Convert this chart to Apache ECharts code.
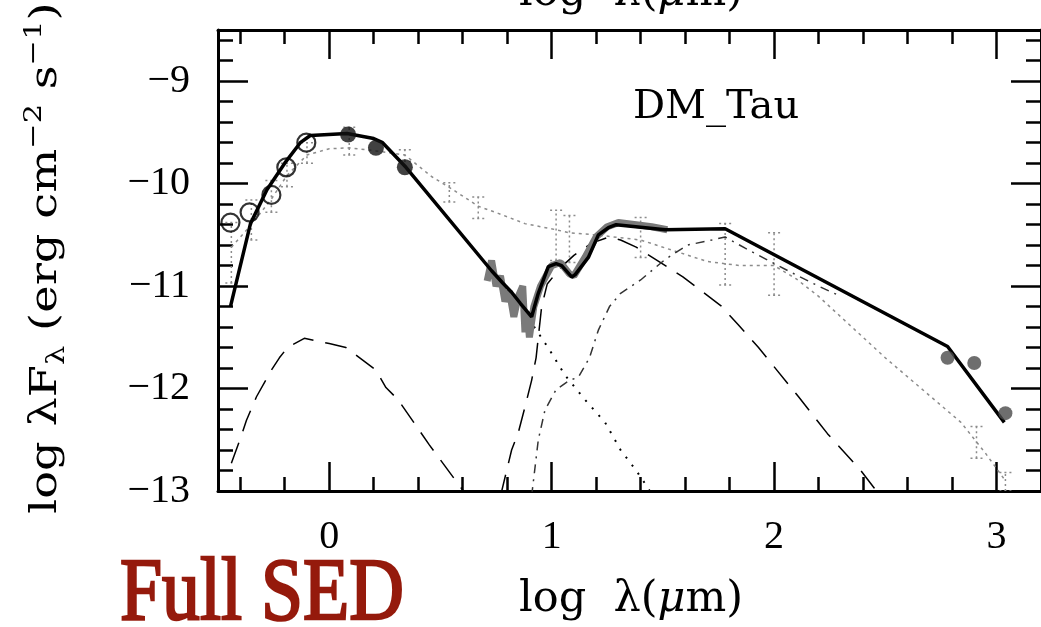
<!DOCTYPE html>
<html>
<head>
<meta charset="utf-8">
<script src="https://cdn.jsdelivr.net/npm/echarts@6/dist/echarts.min.js"></script>
<style>
  html, body { margin: 0; padding: 0; background: #fff; }
  #chart { width: 1041px; height: 627px; }
</style>
</head>
<body>
<div id="chart"></div>
<script>
// Ticks (log lambda / log lambda F_lambda)
const xMajor = [0, 1, 2, 3];
const xMinor = [-0.4, -0.2, 0, 0.2, 0.4, 0.6, 0.8, 1, 1.2, 1.4, 1.6, 1.8, 2, 2.2, 2.4, 2.6, 2.8, 3];
const yMajor = [-13, -12, -11, -10, -9];
const yMinor = [-12.8, -12.6, -12.4, -12.2, -12, -11.8, -11.6, -11.4, -11.2, -11, -10.8, -10.6, -10.4,
                -10.2, -10, -9.8, -9.6, -9.4, -9.2, -9, -8.8, -8.6];

// Total model (solid)
const modelX = [-0.444, -0.354, -0.28, -0.2, -0.13, -0.085, 0.08, 0.2, 0.24, 0.345, 0.73, 0.78, 0.82, 0.86,
                0.91, 0.94, 0.985, 1.02, 1.045, 1.09, 1.105, 1.165, 1.21, 1.255, 1.29, 1.51, 1.78, 2.78, 3.035];
const modelY = [-11.2, -10.39, -10.06, -9.8, -9.6, -9.53, -9.51, -9.56, -9.6, -9.84, -10.85, -10.97, -11.06, -11.17,
                -11.3, -11.07, -10.81, -10.78, -10.8, -10.91, -10.89, -10.72, -10.5, -10.43, -10.4, -10.45, -10.44, -11.59, -12.33];

// Spectrum (grey band)
const specX = [0.71, 0.73, 0.75, 0.77, 0.79, 0.81, 0.83, 0.85, 0.87, 0.88, 0.89, 0.9, 0.92, 0.95, 1.0, 1.04,
               1.08, 1.1, 1.15, 1.2, 1.25, 1.3, 1.38, 1.45, 1.52];
const specY = [-10.95, -10.75, -11.0, -10.9, -11.15, -11.05, -11.3, -11.1, -11.0, -11.45, -11.25, -11.5, -11.2,
               -11.0, -10.8, -10.77, -10.88, -10.9, -10.72, -10.52, -10.42, -10.38, -10.4, -10.42, -10.45];

// Stellar / accretion component (long dash, lower left)
const dashAX = [-0.44, -0.395, -0.372, -0.327, -0.26, -0.224, -0.188, -0.112, 0.0, 0.075, 0.21, 0.255, 0.31, 0.45, 0.6, 0.62];
const dashAY = [-12.73, -12.46, -12.31, -12.08, -11.82, -11.7, -11.6, -11.51, -11.56, -11.6, -11.82, -11.99, -12.11, -12.55, -12.99, -13.06];

// Inner wall (long dash)
const dashBX = [0.77, 0.82, 0.85, 0.88, 0.91, 0.93, 0.955, 0.98, 1.04, 1.1, 1.18, 1.26, 1.31, 1.38, 1.49, 1.59,
                1.76, 1.84, 1.93, 2.11, 2.24, 2.39, 2.45, 2.47];
const dashBY = [-13.05, -12.6, -12.43, -12.18, -11.92, -11.7, -11.2, -10.98, -10.82, -10.7, -10.58, -10.52, -10.55,
                -10.62, -10.77, -10.91, -11.19, -11.38, -11.6, -12.08, -12.44, -12.8, -12.97, -13.05];

// Photosphere (dotted)
const photX = [0.73, 0.91, 0.99, 1.06, 1.15, 1.24, 1.31, 1.38, 1.43, 1.45];
const photY = [-10.85, -11.36, -11.62, -11.87, -12.11, -12.33, -12.6, -12.8, -12.96, -13.03];

// Outer disk (dash-dot)
const outX = [0.91, 0.94, 0.97, 1.02, 1.08, 1.12, 1.17, 1.21, 1.26, 1.31, 1.40, 1.51, 1.61, 1.72, 1.78, 1.87, 2.08, 2.2, 2.3];
const outY = [-13.05, -12.5, -12.21, -12.01, -11.92, -11.89, -11.7, -11.43, -11.2, -11.07, -10.94, -10.74, -10.6,
              -10.55, -10.52, -10.63, -10.87, -11.0, -11.1];

// Taurus median (grey dotted) and its error bars
const medX = [-0.44, -0.35, -0.26, -0.19, -0.1, 0.0, 0.09, 0.21, 0.34, 0.46, 0.55, 0.67, 0.76, 0.88, 1.02, 1.08,
              1.2, 1.4, 1.7, 1.85, 2.0, 2.1, 2.2, 2.5, 2.84, 2.95, 3.04];
const medY = [-10.62, -10.4, -10.15, -9.92, -9.72, -9.66, -9.65, -9.68, -9.72, -9.93, -10.05, -10.22, -10.29, -10.39,
              -10.45, -10.48, -10.5, -10.55, -10.76, -10.8, -10.8, -10.93, -11.1, -11.7, -12.33, -12.63, -12.9];
const errX = [-0.44, -0.35, -0.26, -0.19, -0.1, 0.09, 0.34, 0.54, 0.67, 1.02, 1.08, 1.40, 1.78, 2.0, 2.91, 3.04];
const errLo = [-10.97, -10.55, -10.28, -10.03, -9.8, -9.72, -9.78, -10.18, -10.34, -10.75, -10.77, -10.72, -10.99, -11.09, -12.68, -13.0];
const errHi = [-10.38, -10.16, -9.97, -9.8, -9.6, -9.45, -9.67, -9.99, -10.13, -10.26, -10.31, -10.33, -10.39, -10.48, -12.37, -12.82];

// Photometry
const openX = [-0.444, -0.358, -0.26, -0.193, -0.103];
const openY = [-10.38, -10.28, -10.11, -9.84, -9.6];
const nirX = [0.085, 0.21, 0.34];
const nirY = [-9.52, -9.65, -9.84];
const mmX = [2.78, 2.90, 3.04];
const mmY = [-11.70, -11.75, -12.24];

const pairs = (xs, ys) => xs.map((x, i) => [x, ys[i]]);

const chart = echarts.init(document.getElementById('chart'));

const tickFont = { fontFamily: 'Liberation Serif', fontSize: 40, color: '#000' };
const minus = v => (v < 0 ? '\u2212' : '') + Math.abs(v);

function xAx(pos, ticks, len, showLine, labels) {
    return {
        type: 'value', position: pos, min: -0.5, max: 3.2,
        axisLine: { show: showLine, onZero: false, lineStyle: { color: '#000', width: 3 } },
        axisTick: { show: true, inside: true, length: len, customValues: ticks,
                    lineStyle: { color: '#000', width: 2.5 } },
        axisLabel: labels ? Object.assign({ customValues: xMajor, margin: 26, formatter: minus }, tickFont)
                          : { show: false },
        splitLine: { show: false }
    };
}
function yAx(pos, ticks, len, showLine, labels) {
    return {
        type: 'value', position: pos, min: -13, max: -8.5,
        axisLine: { show: showLine, onZero: false, lineStyle: { color: '#000', width: 3 } },
        axisTick: { show: true, inside: true, length: len, customValues: ticks,
                    lineStyle: { color: '#000', width: 2.5 } },
        axisLabel: labels ? Object.assign({ customValues: yMajor, margin: 28, formatter: minus }, tickFont)
                          : { show: false },
        splitLine: { show: false }
    };
}

function lineSeries(xs, ys, color, width, type, z) {
    return {
        type: 'line', data: pairs(xs, ys), showSymbol: false, symbol: 'none', z: z,
        lineStyle: { color: color, width: width, type: type }, silent: true, animation: false
    };
}

const option = {
    animation: false,
    backgroundColor: '#fff',
    grid: { left: 218, top: 30, right: -4, bottom: 136 },
    xAxis: [
        xAx('bottom', xMinor, 14, true, true),
        xAx('bottom', xMajor, 29, false, false),
        xAx('top', xMinor, 14, true, false),
        xAx('top', xMajor, 29, false, false)
    ],
    yAxis: [
        yAx('left', yMinor, 15, true, true),
        yAx('left', yMajor, 30, false, false),
        yAx('right', yMinor, 15, true, false),
        yAx('right', yMajor, 30, false, false)
    ],
    series: [
        lineSeries(medX, medY, '#8c8c8c', 1.5, [3, 4], 1),
        {
            type: 'custom', z: 1, clip: true, silent: true,
            data: errX.map((x, i) => [x, errLo[i], errHi[i]]),
            encode: { x: 0, y: [1, 2] },
            renderItem: function (params, api) {
                const lo = api.coord([api.value(0), api.value(1)]);
                const hi = api.coord([api.value(0), api.value(2)]);
                const w = 6;
                const st = { stroke: '#8c8c8c', lineWidth: 1.5, lineDash: [2, 3], fill: null };
                return {
                    type: 'group', children: [
                        { type: 'line', shape: { x1: lo[0], y1: lo[1], x2: hi[0], y2: hi[1] }, style: st },
                        { type: 'line', shape: { x1: lo[0] - w, y1: lo[1], x2: lo[0] + w, y2: lo[1] }, style: st },
                        { type: 'line', shape: { x1: hi[0] - w, y1: hi[1], x2: hi[0] + w, y2: hi[1] }, style: st }
                    ]
                };
            }
        },
        lineSeries(dashAX, dashAY, '#000', 1.5, [22, 12], 2),
        lineSeries(dashBX, dashBY, '#000', 1.5, [22, 12], 2),
        lineSeries(photX, photY, '#000', 2, [2, 8], 2),
        lineSeries(outX, outY, '#333', 1.5, [9, 6, 2, 6], 2),
        lineSeries(specX, specY, '#7a7a7a', 7, 'solid', 3),
        lineSeries(modelX, modelY, '#000', 3.5, 'solid', 4),
        {
            type: 'scatter', z: 5, data: pairs(openX, openY), symbol: 'circle', symbolSize: 18,
            itemStyle: { color: 'rgba(255,255,255,0)', borderColor: '#000', borderWidth: 2.2 }
        },
        {
            type: 'scatter', z: 5, data: pairs(nirX, nirY), symbol: 'circle', symbolSize: 16,
            itemStyle: { color: '#111' }
        },
        {
            type: 'scatter', z: 5, data: pairs(mmX, mmY), symbol: 'circle', symbolSize: 14,
            itemStyle: { color: '#4a4a4a' }
        }
    ],
    graphic: [
        {
            type: 'text', x: 633, y: 108,
            style: { text: 'DM_Tau', fontFamily: 'DejaVu Serif', fontSize: 40, fill: '#000',
                     align: 'left', verticalAlign: 'middle' }
        },
        {
            type: 'text', x: 631, y: 600,
            style: {
                text: '{r|log  \u03bb(}{i|\u03bc}{r|m)}', align: 'center', verticalAlign: 'middle', fill: '#000',
                rich: {
                    r: { fontFamily: 'DejaVu Serif', fontSize: 43 },
                    i: { fontFamily: 'DejaVu Serif', fontSize: 43, fontStyle: 'italic' }
                }
            }
        },
        {
            type: 'text', x: 631, y: -6,
            style: {
                text: '{r|log  \u03bb(}{i|\u03bc}{r|m)}', align: 'center', verticalAlign: 'middle', fill: '#000',
                rich: {
                    r: { fontFamily: 'DejaVu Serif', fontSize: 43 },
                    i: { fontFamily: 'DejaVu Serif', fontSize: 43, fontStyle: 'italic' }
                }
            }
        },
        {
            type: 'text', x: 120, y: 596, scaleX: 0.86,
            style: { text: 'Full SED', fontFamily: 'Liberation Serif', fontSize: 88,
                     fill: '#951a0c', stroke: '#951a0c', lineWidth: 2.5,
                     align: 'left', verticalAlign: 'middle' }
        },
        {
            type: 'text', x: 46, y: 258, rotation: Math.PI / 2, scaleX: 1.22,
            style: {
                text: '{m|log \u03bbF}{sub|\u03bb}{m| (erg cm}{sup|\u22122}{m| s}{sup|\u22121}{m|)}',
                align: 'center', verticalAlign: 'middle', fill: '#000',
                rich: {
                    m: { fontFamily: 'DejaVu Serif', fontSize: 38, lineHeight: 48, verticalAlign: 'middle' },
                    sup: { fontFamily: 'DejaVu Serif', fontSize: 25, verticalAlign: 'top' },
                    sub: { fontFamily: 'DejaVu Serif', fontSize: 25, verticalAlign: 'bottom' }
                }
            }
        }
    ]
};

chart.setOption(option);
</script>
</body>
</html>
